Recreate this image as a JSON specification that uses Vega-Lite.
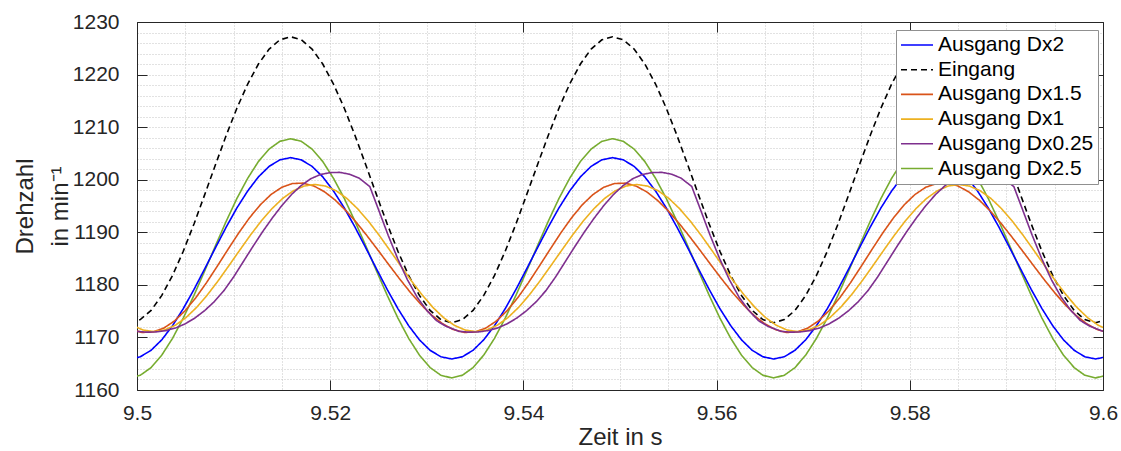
{
"$schema": "https://vega.github.io/schema/vega-lite/v6.json",
"width": 966,
"height": 368,
"autosize": {"type": "none"},
"padding": {"left": 137, "top": 22, "right": 18, "bottom": 61},
"background": "white",
"config": {
  "view": {"stroke": null},
  "font": "Liberation Sans",
  "axis": {"labelFont": "Liberation Sans", "titleFont": "Liberation Sans", "labelColor": "#262626", "titleColor": "#262626", "titleFontWeight": "normal", "domainColor": "#262626", "tickColor": "#262626", "domainWidth": 1, "tickWidth": 1},
  "legend": {"labelFont": "Liberation Sans"}
},
"data": {"values": [
{"s":"Eingang","t":9.49923,"v":1172.8},{"s":"Eingang","t":9.50034,"v":1173.39},{"s":"Eingang","t":9.50146,"v":1175.15},{"s":"Eingang","t":9.50257,"v":1177.99},{"s":"Eingang","t":9.50368,"v":1181.8},{"s":"Eingang","t":9.50479,"v":1186.4},{"s":"Eingang","t":9.5059,"v":1191.59},{"s":"Eingang","t":9.50701,"v":1197.16},{"s":"Eingang","t":9.50812,"v":1202.84},{"s":"Eingang","t":9.50923,"v":1208.41},{"s":"Eingang","t":9.51034,"v":1213.6},{"s":"Eingang","t":9.51146,"v":1218.2},{"s":"Eingang","t":9.51257,"v":1222.01},{"s":"Eingang","t":9.51368,"v":1224.85},{"s":"Eingang","t":9.51479,"v":1226.61},
{"s":"Eingang","t":9.5159,"v":1227.2},{"s":"Eingang","t":9.51701,"v":1226.61},{"s":"Eingang","t":9.51812,"v":1224.85},{"s":"Eingang","t":9.51923,"v":1222.01},{"s":"Eingang","t":9.52034,"v":1218.2},{"s":"Eingang","t":9.52146,"v":1213.6},{"s":"Eingang","t":9.52257,"v":1208.41},{"s":"Eingang","t":9.52368,"v":1202.84},{"s":"Eingang","t":9.52479,"v":1197.16},{"s":"Eingang","t":9.5259,"v":1191.59},{"s":"Eingang","t":9.52701,"v":1186.4},{"s":"Eingang","t":9.52812,"v":1181.8},{"s":"Eingang","t":9.52923,"v":1177.99},{"s":"Eingang","t":9.53034,"v":1175.15},{"s":"Eingang","t":9.53146,"v":1173.39},
{"s":"Eingang","t":9.53257,"v":1172.8},{"s":"Eingang","t":9.53368,"v":1173.39},{"s":"Eingang","t":9.53479,"v":1175.15},{"s":"Eingang","t":9.5359,"v":1177.99},{"s":"Eingang","t":9.53701,"v":1181.8},{"s":"Eingang","t":9.53812,"v":1186.4},{"s":"Eingang","t":9.53923,"v":1191.59},{"s":"Eingang","t":9.54034,"v":1197.16},{"s":"Eingang","t":9.54146,"v":1202.84},{"s":"Eingang","t":9.54257,"v":1208.41},{"s":"Eingang","t":9.54368,"v":1213.6},{"s":"Eingang","t":9.54479,"v":1218.2},{"s":"Eingang","t":9.5459,"v":1222.01},{"s":"Eingang","t":9.54701,"v":1224.85},{"s":"Eingang","t":9.54812,"v":1226.61},
{"s":"Eingang","t":9.54923,"v":1227.2},{"s":"Eingang","t":9.55034,"v":1226.61},{"s":"Eingang","t":9.55146,"v":1224.85},{"s":"Eingang","t":9.55257,"v":1222.01},{"s":"Eingang","t":9.55368,"v":1218.2},{"s":"Eingang","t":9.55479,"v":1213.6},{"s":"Eingang","t":9.5559,"v":1208.41},{"s":"Eingang","t":9.55701,"v":1202.84},{"s":"Eingang","t":9.55812,"v":1197.16},{"s":"Eingang","t":9.55923,"v":1191.59},{"s":"Eingang","t":9.56034,"v":1186.4},{"s":"Eingang","t":9.56146,"v":1181.8},{"s":"Eingang","t":9.56257,"v":1177.99},{"s":"Eingang","t":9.56368,"v":1175.15},{"s":"Eingang","t":9.56479,"v":1173.39},
{"s":"Eingang","t":9.5659,"v":1172.8},{"s":"Eingang","t":9.56701,"v":1173.39},{"s":"Eingang","t":9.56812,"v":1175.15},{"s":"Eingang","t":9.56923,"v":1177.99},{"s":"Eingang","t":9.57034,"v":1181.8},{"s":"Eingang","t":9.57146,"v":1186.4},{"s":"Eingang","t":9.57257,"v":1191.59},{"s":"Eingang","t":9.57368,"v":1197.16},{"s":"Eingang","t":9.57479,"v":1202.84},{"s":"Eingang","t":9.5759,"v":1208.41},{"s":"Eingang","t":9.57701,"v":1213.6},{"s":"Eingang","t":9.57812,"v":1218.2},{"s":"Eingang","t":9.57923,"v":1222.01},{"s":"Eingang","t":9.58034,"v":1224.85},{"s":"Eingang","t":9.58146,"v":1226.61},
{"s":"Eingang","t":9.58257,"v":1227.2},{"s":"Eingang","t":9.58368,"v":1226.61},{"s":"Eingang","t":9.58479,"v":1224.85},{"s":"Eingang","t":9.5859,"v":1222.01},{"s":"Eingang","t":9.58701,"v":1218.2},{"s":"Eingang","t":9.58812,"v":1213.6},{"s":"Eingang","t":9.58923,"v":1208.41},{"s":"Eingang","t":9.59034,"v":1202.84},{"s":"Eingang","t":9.59146,"v":1197.16},{"s":"Eingang","t":9.59257,"v":1191.59},{"s":"Eingang","t":9.59368,"v":1186.4},{"s":"Eingang","t":9.59479,"v":1181.8},{"s":"Eingang","t":9.5959,"v":1177.99},{"s":"Eingang","t":9.59701,"v":1175.15},{"s":"Eingang","t":9.59812,"v":1173.39},{"s":"Eingang","t":9.59923,"v":1172.8},{"s":"Eingang","t":9.60034,"v":1173.39},

{"s":"Ausgang Dx2.5","t":9.49923,"v":1162.3},{"s":"Ausgang Dx2.5","t":9.50034,"v":1162.8},{"s":"Ausgang Dx2.5","t":9.50146,"v":1164.27},{"s":"Ausgang Dx2.5","t":9.50257,"v":1166.65},{"s":"Ausgang Dx2.5","t":9.50368,"v":1169.83},{"s":"Ausgang Dx2.5","t":9.50479,"v":1173.68},{"s":"Ausgang Dx2.5","t":9.5059,"v":1178.02},{"s":"Ausgang Dx2.5","t":9.50701,"v":1182.67},{"s":"Ausgang Dx2.5","t":9.50812,"v":1187.43},{"s":"Ausgang Dx2.5","t":9.50923,"v":1192.08},{"s":"Ausgang Dx2.5","t":9.51034,"v":1196.43},{"s":"Ausgang Dx2.5","t":9.51146,"v":1200.27},{"s":"Ausgang Dx2.5","t":9.51257,"v":1203.46},{"s":"Ausgang Dx2.5","t":9.51368,"v":1205.83},{"s":"Ausgang Dx2.5","t":9.51479,"v":1207.3},
{"s":"Ausgang Dx2.5","t":9.5159,"v":1207.8},{"s":"Ausgang Dx2.5","t":9.51701,"v":1207.3},{"s":"Ausgang Dx2.5","t":9.51812,"v":1205.83},{"s":"Ausgang Dx2.5","t":9.51923,"v":1203.46},{"s":"Ausgang Dx2.5","t":9.52034,"v":1200.27},{"s":"Ausgang Dx2.5","t":9.52146,"v":1196.43},{"s":"Ausgang Dx2.5","t":9.52257,"v":1192.08},{"s":"Ausgang Dx2.5","t":9.52368,"v":1187.43},{"s":"Ausgang Dx2.5","t":9.52479,"v":1182.67},{"s":"Ausgang Dx2.5","t":9.5259,"v":1178.02},{"s":"Ausgang Dx2.5","t":9.52701,"v":1173.68},{"s":"Ausgang Dx2.5","t":9.52812,"v":1169.83},{"s":"Ausgang Dx2.5","t":9.52923,"v":1166.65},{"s":"Ausgang Dx2.5","t":9.53034,"v":1164.27},{"s":"Ausgang Dx2.5","t":9.53146,"v":1162.8},
{"s":"Ausgang Dx2.5","t":9.53257,"v":1162.3},{"s":"Ausgang Dx2.5","t":9.53368,"v":1162.8},{"s":"Ausgang Dx2.5","t":9.53479,"v":1164.27},{"s":"Ausgang Dx2.5","t":9.5359,"v":1166.65},{"s":"Ausgang Dx2.5","t":9.53701,"v":1169.83},{"s":"Ausgang Dx2.5","t":9.53812,"v":1173.68},{"s":"Ausgang Dx2.5","t":9.53923,"v":1178.02},{"s":"Ausgang Dx2.5","t":9.54034,"v":1182.67},{"s":"Ausgang Dx2.5","t":9.54146,"v":1187.43},{"s":"Ausgang Dx2.5","t":9.54257,"v":1192.08},{"s":"Ausgang Dx2.5","t":9.54368,"v":1196.43},{"s":"Ausgang Dx2.5","t":9.54479,"v":1200.27},{"s":"Ausgang Dx2.5","t":9.5459,"v":1203.46},{"s":"Ausgang Dx2.5","t":9.54701,"v":1205.83},{"s":"Ausgang Dx2.5","t":9.54812,"v":1207.3},
{"s":"Ausgang Dx2.5","t":9.54923,"v":1207.8},{"s":"Ausgang Dx2.5","t":9.55034,"v":1207.3},{"s":"Ausgang Dx2.5","t":9.55146,"v":1205.83},{"s":"Ausgang Dx2.5","t":9.55257,"v":1203.46},{"s":"Ausgang Dx2.5","t":9.55368,"v":1200.27},{"s":"Ausgang Dx2.5","t":9.55479,"v":1196.43},{"s":"Ausgang Dx2.5","t":9.5559,"v":1192.08},{"s":"Ausgang Dx2.5","t":9.55701,"v":1187.43},{"s":"Ausgang Dx2.5","t":9.55812,"v":1182.67},{"s":"Ausgang Dx2.5","t":9.55923,"v":1178.02},{"s":"Ausgang Dx2.5","t":9.56034,"v":1173.68},{"s":"Ausgang Dx2.5","t":9.56146,"v":1169.83},{"s":"Ausgang Dx2.5","t":9.56257,"v":1166.65},{"s":"Ausgang Dx2.5","t":9.56368,"v":1164.27},{"s":"Ausgang Dx2.5","t":9.56479,"v":1162.8},
{"s":"Ausgang Dx2.5","t":9.5659,"v":1162.3},{"s":"Ausgang Dx2.5","t":9.56701,"v":1162.8},{"s":"Ausgang Dx2.5","t":9.56812,"v":1164.27},{"s":"Ausgang Dx2.5","t":9.56923,"v":1166.65},{"s":"Ausgang Dx2.5","t":9.57034,"v":1169.83},{"s":"Ausgang Dx2.5","t":9.57146,"v":1173.68},{"s":"Ausgang Dx2.5","t":9.57257,"v":1178.02},{"s":"Ausgang Dx2.5","t":9.57368,"v":1182.67},{"s":"Ausgang Dx2.5","t":9.57479,"v":1187.43},{"s":"Ausgang Dx2.5","t":9.5759,"v":1192.08},{"s":"Ausgang Dx2.5","t":9.57701,"v":1196.43},{"s":"Ausgang Dx2.5","t":9.57812,"v":1200.27},{"s":"Ausgang Dx2.5","t":9.57923,"v":1203.46},{"s":"Ausgang Dx2.5","t":9.58034,"v":1205.83},{"s":"Ausgang Dx2.5","t":9.58146,"v":1207.3},
{"s":"Ausgang Dx2.5","t":9.58257,"v":1207.8},{"s":"Ausgang Dx2.5","t":9.58368,"v":1207.3},{"s":"Ausgang Dx2.5","t":9.58479,"v":1205.83},{"s":"Ausgang Dx2.5","t":9.5859,"v":1203.46},{"s":"Ausgang Dx2.5","t":9.58701,"v":1200.27},{"s":"Ausgang Dx2.5","t":9.58812,"v":1196.43},{"s":"Ausgang Dx2.5","t":9.58923,"v":1192.08},{"s":"Ausgang Dx2.5","t":9.59034,"v":1187.43},{"s":"Ausgang Dx2.5","t":9.59146,"v":1182.67},{"s":"Ausgang Dx2.5","t":9.59257,"v":1178.02},{"s":"Ausgang Dx2.5","t":9.59368,"v":1173.68},{"s":"Ausgang Dx2.5","t":9.59479,"v":1169.83},{"s":"Ausgang Dx2.5","t":9.5959,"v":1166.65},{"s":"Ausgang Dx2.5","t":9.59701,"v":1164.27},{"s":"Ausgang Dx2.5","t":9.59812,"v":1162.8},{"s":"Ausgang Dx2.5","t":9.59923,"v":1162.3},{"s":"Ausgang Dx2.5","t":9.60034,"v":1162.8},

{"s":"Ausgang Dx2","t":9.49923,"v":1165.9},{"s":"Ausgang Dx2","t":9.50034,"v":1166.32},{"s":"Ausgang Dx2","t":9.50146,"v":1167.56},{"s":"Ausgang Dx2","t":9.50257,"v":1169.56},{"s":"Ausgang Dx2","t":9.50368,"v":1172.24},{"s":"Ausgang Dx2","t":9.50479,"v":1175.48},{"s":"Ausgang Dx2","t":9.5059,"v":1179.13},{"s":"Ausgang Dx2","t":9.50701,"v":1183.05},{"s":"Ausgang Dx2","t":9.50812,"v":1187.05},{"s":"Ausgang Dx2","t":9.50923,"v":1190.97},{"s":"Ausgang Dx2","t":9.51034,"v":1194.63},{"s":"Ausgang Dx2","t":9.51146,"v":1197.86},{"s":"Ausgang Dx2","t":9.51257,"v":1200.54},{"s":"Ausgang Dx2","t":9.51368,"v":1202.54},{"s":"Ausgang Dx2","t":9.51479,"v":1203.78},
{"s":"Ausgang Dx2","t":9.5159,"v":1204.2},{"s":"Ausgang Dx2","t":9.51701,"v":1203.78},{"s":"Ausgang Dx2","t":9.51812,"v":1202.54},{"s":"Ausgang Dx2","t":9.51923,"v":1200.54},{"s":"Ausgang Dx2","t":9.52034,"v":1197.86},{"s":"Ausgang Dx2","t":9.52146,"v":1194.63},{"s":"Ausgang Dx2","t":9.52257,"v":1190.97},{"s":"Ausgang Dx2","t":9.52368,"v":1187.05},{"s":"Ausgang Dx2","t":9.52479,"v":1183.05},{"s":"Ausgang Dx2","t":9.5259,"v":1179.13},{"s":"Ausgang Dx2","t":9.52701,"v":1175.48},{"s":"Ausgang Dx2","t":9.52812,"v":1172.24},{"s":"Ausgang Dx2","t":9.52923,"v":1169.56},{"s":"Ausgang Dx2","t":9.53034,"v":1167.56},{"s":"Ausgang Dx2","t":9.53146,"v":1166.32},
{"s":"Ausgang Dx2","t":9.53257,"v":1165.9},{"s":"Ausgang Dx2","t":9.53368,"v":1166.32},{"s":"Ausgang Dx2","t":9.53479,"v":1167.56},{"s":"Ausgang Dx2","t":9.5359,"v":1169.56},{"s":"Ausgang Dx2","t":9.53701,"v":1172.24},{"s":"Ausgang Dx2","t":9.53812,"v":1175.48},{"s":"Ausgang Dx2","t":9.53923,"v":1179.13},{"s":"Ausgang Dx2","t":9.54034,"v":1183.05},{"s":"Ausgang Dx2","t":9.54146,"v":1187.05},{"s":"Ausgang Dx2","t":9.54257,"v":1190.97},{"s":"Ausgang Dx2","t":9.54368,"v":1194.63},{"s":"Ausgang Dx2","t":9.54479,"v":1197.86},{"s":"Ausgang Dx2","t":9.5459,"v":1200.54},{"s":"Ausgang Dx2","t":9.54701,"v":1202.54},{"s":"Ausgang Dx2","t":9.54812,"v":1203.78},
{"s":"Ausgang Dx2","t":9.54923,"v":1204.2},{"s":"Ausgang Dx2","t":9.55034,"v":1203.78},{"s":"Ausgang Dx2","t":9.55146,"v":1202.54},{"s":"Ausgang Dx2","t":9.55257,"v":1200.54},{"s":"Ausgang Dx2","t":9.55368,"v":1197.86},{"s":"Ausgang Dx2","t":9.55479,"v":1194.63},{"s":"Ausgang Dx2","t":9.5559,"v":1190.97},{"s":"Ausgang Dx2","t":9.55701,"v":1187.05},{"s":"Ausgang Dx2","t":9.55812,"v":1183.05},{"s":"Ausgang Dx2","t":9.55923,"v":1179.13},{"s":"Ausgang Dx2","t":9.56034,"v":1175.48},{"s":"Ausgang Dx2","t":9.56146,"v":1172.24},{"s":"Ausgang Dx2","t":9.56257,"v":1169.56},{"s":"Ausgang Dx2","t":9.56368,"v":1167.56},{"s":"Ausgang Dx2","t":9.56479,"v":1166.32},
{"s":"Ausgang Dx2","t":9.5659,"v":1165.9},{"s":"Ausgang Dx2","t":9.56701,"v":1166.32},{"s":"Ausgang Dx2","t":9.56812,"v":1167.56},{"s":"Ausgang Dx2","t":9.56923,"v":1169.56},{"s":"Ausgang Dx2","t":9.57034,"v":1172.24},{"s":"Ausgang Dx2","t":9.57146,"v":1175.48},{"s":"Ausgang Dx2","t":9.57257,"v":1179.13},{"s":"Ausgang Dx2","t":9.57368,"v":1183.05},{"s":"Ausgang Dx2","t":9.57479,"v":1187.05},{"s":"Ausgang Dx2","t":9.5759,"v":1190.97},{"s":"Ausgang Dx2","t":9.57701,"v":1194.63},{"s":"Ausgang Dx2","t":9.57812,"v":1197.86},{"s":"Ausgang Dx2","t":9.57923,"v":1200.54},{"s":"Ausgang Dx2","t":9.58034,"v":1202.54},{"s":"Ausgang Dx2","t":9.58146,"v":1203.78},
{"s":"Ausgang Dx2","t":9.58257,"v":1204.2},{"s":"Ausgang Dx2","t":9.58368,"v":1203.78},{"s":"Ausgang Dx2","t":9.58479,"v":1202.54},{"s":"Ausgang Dx2","t":9.5859,"v":1200.54},{"s":"Ausgang Dx2","t":9.58701,"v":1197.86},{"s":"Ausgang Dx2","t":9.58812,"v":1194.63},{"s":"Ausgang Dx2","t":9.58923,"v":1190.97},{"s":"Ausgang Dx2","t":9.59034,"v":1187.05},{"s":"Ausgang Dx2","t":9.59146,"v":1183.05},{"s":"Ausgang Dx2","t":9.59257,"v":1179.13},{"s":"Ausgang Dx2","t":9.59368,"v":1175.48},{"s":"Ausgang Dx2","t":9.59479,"v":1172.24},{"s":"Ausgang Dx2","t":9.5959,"v":1169.56},{"s":"Ausgang Dx2","t":9.59701,"v":1167.56},{"s":"Ausgang Dx2","t":9.59812,"v":1166.32},{"s":"Ausgang Dx2","t":9.59923,"v":1165.9},{"s":"Ausgang Dx2","t":9.60034,"v":1166.32},

{"s":"Ausgang Dx1.5","t":9.49942,"v":1171.49},{"s":"Ausgang Dx1.5","t":9.50053,"v":1170.95},{"s":"Ausgang Dx1.5","t":9.50164,"v":1171.03},{"s":"Ausgang Dx1.5","t":9.50276,"v":1171.76},{"s":"Ausgang Dx1.5","t":9.50387,"v":1173.12},{"s":"Ausgang Dx1.5","t":9.50498,"v":1175.08},{"s":"Ausgang Dx1.5","t":9.50609,"v":1177.56},{"s":"Ausgang Dx1.5","t":9.5072,"v":1180.43},{"s":"Ausgang Dx1.5","t":9.50831,"v":1183.55},{"s":"Ausgang Dx1.5","t":9.50942,"v":1186.75},{"s":"Ausgang Dx1.5","t":9.51053,"v":1189.87},{"s":"Ausgang Dx1.5","t":9.51164,"v":1192.74},{"s":"Ausgang Dx1.5","t":9.51276,"v":1195.22},{"s":"Ausgang Dx1.5","t":9.51387,"v":1197.18},{"s":"Ausgang Dx1.5","t":9.51498,"v":1198.55},{"s":"Ausgang Dx1.5","t":9.51609,"v":1199.27},
{"s":"Ausgang Dx1.5","t":9.5172,"v":1199.35},{"s":"Ausgang Dx1.5","t":9.51831,"v":1198.81},{"s":"Ausgang Dx1.5","t":9.51942,"v":1197.7},{"s":"Ausgang Dx1.5","t":9.52053,"v":1196.1},{"s":"Ausgang Dx1.5","t":9.52164,"v":1194.09},{"s":"Ausgang Dx1.5","t":9.52276,"v":1191.76},{"s":"Ausgang Dx1.5","t":9.52387,"v":1189.2},{"s":"Ausgang Dx1.5","t":9.52498,"v":1186.52},{"s":"Ausgang Dx1.5","t":9.52609,"v":1183.78},{"s":"Ausgang Dx1.5","t":9.5272,"v":1181.1},{"s":"Ausgang Dx1.5","t":9.52831,"v":1178.54},{"s":"Ausgang Dx1.5","t":9.52942,"v":1176.21},{"s":"Ausgang Dx1.5","t":9.53053,"v":1174.2},{"s":"Ausgang Dx1.5","t":9.53164,"v":1172.6},{"s":"Ausgang Dx1.5","t":9.53276,"v":1171.49},
{"s":"Ausgang Dx1.5","t":9.53387,"v":1170.95},{"s":"Ausgang Dx1.5","t":9.53498,"v":1171.03},{"s":"Ausgang Dx1.5","t":9.53609,"v":1171.76},{"s":"Ausgang Dx1.5","t":9.5372,"v":1173.12},{"s":"Ausgang Dx1.5","t":9.53831,"v":1175.08},{"s":"Ausgang Dx1.5","t":9.53942,"v":1177.56},{"s":"Ausgang Dx1.5","t":9.54053,"v":1180.43},{"s":"Ausgang Dx1.5","t":9.54164,"v":1183.55},{"s":"Ausgang Dx1.5","t":9.54276,"v":1186.75},{"s":"Ausgang Dx1.5","t":9.54387,"v":1189.87},{"s":"Ausgang Dx1.5","t":9.54498,"v":1192.74},{"s":"Ausgang Dx1.5","t":9.54609,"v":1195.22},{"s":"Ausgang Dx1.5","t":9.5472,"v":1197.18},{"s":"Ausgang Dx1.5","t":9.54831,"v":1198.55},{"s":"Ausgang Dx1.5","t":9.54942,"v":1199.27},
{"s":"Ausgang Dx1.5","t":9.55053,"v":1199.35},{"s":"Ausgang Dx1.5","t":9.55164,"v":1198.81},{"s":"Ausgang Dx1.5","t":9.55276,"v":1197.7},{"s":"Ausgang Dx1.5","t":9.55387,"v":1196.1},{"s":"Ausgang Dx1.5","t":9.55498,"v":1194.09},{"s":"Ausgang Dx1.5","t":9.55609,"v":1191.76},{"s":"Ausgang Dx1.5","t":9.5572,"v":1189.2},{"s":"Ausgang Dx1.5","t":9.55831,"v":1186.52},{"s":"Ausgang Dx1.5","t":9.55942,"v":1183.78},{"s":"Ausgang Dx1.5","t":9.56053,"v":1181.1},{"s":"Ausgang Dx1.5","t":9.56164,"v":1178.54},{"s":"Ausgang Dx1.5","t":9.56276,"v":1176.21},{"s":"Ausgang Dx1.5","t":9.56387,"v":1174.2},{"s":"Ausgang Dx1.5","t":9.56498,"v":1172.6},{"s":"Ausgang Dx1.5","t":9.56609,"v":1171.49},
{"s":"Ausgang Dx1.5","t":9.5672,"v":1170.95},{"s":"Ausgang Dx1.5","t":9.56831,"v":1171.03},{"s":"Ausgang Dx1.5","t":9.56942,"v":1171.76},{"s":"Ausgang Dx1.5","t":9.57053,"v":1173.12},{"s":"Ausgang Dx1.5","t":9.57164,"v":1175.08},{"s":"Ausgang Dx1.5","t":9.57276,"v":1177.56},{"s":"Ausgang Dx1.5","t":9.57387,"v":1180.43},{"s":"Ausgang Dx1.5","t":9.57498,"v":1183.55},{"s":"Ausgang Dx1.5","t":9.57609,"v":1186.75},{"s":"Ausgang Dx1.5","t":9.5772,"v":1189.87},{"s":"Ausgang Dx1.5","t":9.57831,"v":1192.74},{"s":"Ausgang Dx1.5","t":9.57942,"v":1195.22},{"s":"Ausgang Dx1.5","t":9.58053,"v":1197.18},{"s":"Ausgang Dx1.5","t":9.58164,"v":1198.55},{"s":"Ausgang Dx1.5","t":9.58276,"v":1199.27},
{"s":"Ausgang Dx1.5","t":9.58387,"v":1199.35},{"s":"Ausgang Dx1.5","t":9.58498,"v":1198.81},{"s":"Ausgang Dx1.5","t":9.58609,"v":1197.7},{"s":"Ausgang Dx1.5","t":9.5872,"v":1196.1},{"s":"Ausgang Dx1.5","t":9.58831,"v":1194.09},{"s":"Ausgang Dx1.5","t":9.58942,"v":1191.76},{"s":"Ausgang Dx1.5","t":9.59053,"v":1189.2},{"s":"Ausgang Dx1.5","t":9.59164,"v":1186.52},{"s":"Ausgang Dx1.5","t":9.59276,"v":1183.78},{"s":"Ausgang Dx1.5","t":9.59387,"v":1181.1},{"s":"Ausgang Dx1.5","t":9.59498,"v":1178.54},{"s":"Ausgang Dx1.5","t":9.59609,"v":1176.21},{"s":"Ausgang Dx1.5","t":9.5972,"v":1174.2},{"s":"Ausgang Dx1.5","t":9.59831,"v":1172.6},{"s":"Ausgang Dx1.5","t":9.59942,"v":1171.49},{"s":"Ausgang Dx1.5","t":9.60053,"v":1170.95},

{"s":"Ausgang Dx1","t":9.49951,"v":1172.31},{"s":"Ausgang Dx1","t":9.50062,"v":1171.41},{"s":"Ausgang Dx1","t":9.50173,"v":1171.1},{"s":"Ausgang Dx1","t":9.50284,"v":1171.41},{"s":"Ausgang Dx1","t":9.50396,"v":1172.31},{"s":"Ausgang Dx1","t":9.50507,"v":1173.77},{"s":"Ausgang Dx1","t":9.50618,"v":1175.73},{"s":"Ausgang Dx1","t":9.50729,"v":1178.1},{"s":"Ausgang Dx1","t":9.5084,"v":1180.77},{"s":"Ausgang Dx1","t":9.50951,"v":1183.64},{"s":"Ausgang Dx1","t":9.51062,"v":1186.56},{"s":"Ausgang Dx1","t":9.51173,"v":1189.43},{"s":"Ausgang Dx1","t":9.51284,"v":1192.1},{"s":"Ausgang Dx1","t":9.51396,"v":1194.47},{"s":"Ausgang Dx1","t":9.51507,"v":1196.43},{"s":"Ausgang Dx1","t":9.51618,"v":1197.89},{"s":"Ausgang Dx1","t":9.51729,"v":1198.79},
{"s":"Ausgang Dx1","t":9.5184,"v":1199.1},{"s":"Ausgang Dx1","t":9.51951,"v":1198.79},{"s":"Ausgang Dx1","t":9.52062,"v":1197.89},{"s":"Ausgang Dx1","t":9.52173,"v":1196.43},{"s":"Ausgang Dx1","t":9.52284,"v":1194.47},{"s":"Ausgang Dx1","t":9.52396,"v":1192.1},{"s":"Ausgang Dx1","t":9.52507,"v":1189.43},{"s":"Ausgang Dx1","t":9.52618,"v":1186.56},{"s":"Ausgang Dx1","t":9.52729,"v":1183.64},{"s":"Ausgang Dx1","t":9.5284,"v":1180.77},{"s":"Ausgang Dx1","t":9.52951,"v":1178.1},{"s":"Ausgang Dx1","t":9.53062,"v":1175.73},{"s":"Ausgang Dx1","t":9.53173,"v":1173.77},{"s":"Ausgang Dx1","t":9.53284,"v":1172.31},{"s":"Ausgang Dx1","t":9.53396,"v":1171.41},
{"s":"Ausgang Dx1","t":9.53507,"v":1171.1},{"s":"Ausgang Dx1","t":9.53618,"v":1171.41},{"s":"Ausgang Dx1","t":9.53729,"v":1172.31},{"s":"Ausgang Dx1","t":9.5384,"v":1173.77},{"s":"Ausgang Dx1","t":9.53951,"v":1175.73},{"s":"Ausgang Dx1","t":9.54062,"v":1178.1},{"s":"Ausgang Dx1","t":9.54173,"v":1180.77},{"s":"Ausgang Dx1","t":9.54284,"v":1183.64},{"s":"Ausgang Dx1","t":9.54396,"v":1186.56},{"s":"Ausgang Dx1","t":9.54507,"v":1189.43},{"s":"Ausgang Dx1","t":9.54618,"v":1192.1},{"s":"Ausgang Dx1","t":9.54729,"v":1194.47},{"s":"Ausgang Dx1","t":9.5484,"v":1196.43},{"s":"Ausgang Dx1","t":9.54951,"v":1197.89},{"s":"Ausgang Dx1","t":9.55062,"v":1198.79},
{"s":"Ausgang Dx1","t":9.55173,"v":1199.1},{"s":"Ausgang Dx1","t":9.55284,"v":1198.79},{"s":"Ausgang Dx1","t":9.55396,"v":1197.89},{"s":"Ausgang Dx1","t":9.55507,"v":1196.43},{"s":"Ausgang Dx1","t":9.55618,"v":1194.47},{"s":"Ausgang Dx1","t":9.55729,"v":1192.1},{"s":"Ausgang Dx1","t":9.5584,"v":1189.43},{"s":"Ausgang Dx1","t":9.55951,"v":1186.56},{"s":"Ausgang Dx1","t":9.56062,"v":1183.64},{"s":"Ausgang Dx1","t":9.56173,"v":1180.77},{"s":"Ausgang Dx1","t":9.56284,"v":1178.1},{"s":"Ausgang Dx1","t":9.56396,"v":1175.73},{"s":"Ausgang Dx1","t":9.56507,"v":1173.77},{"s":"Ausgang Dx1","t":9.56618,"v":1172.31},{"s":"Ausgang Dx1","t":9.56729,"v":1171.41},
{"s":"Ausgang Dx1","t":9.5684,"v":1171.1},{"s":"Ausgang Dx1","t":9.56951,"v":1171.41},{"s":"Ausgang Dx1","t":9.57062,"v":1172.31},{"s":"Ausgang Dx1","t":9.57173,"v":1173.77},{"s":"Ausgang Dx1","t":9.57284,"v":1175.73},{"s":"Ausgang Dx1","t":9.57396,"v":1178.1},{"s":"Ausgang Dx1","t":9.57507,"v":1180.77},{"s":"Ausgang Dx1","t":9.57618,"v":1183.64},{"s":"Ausgang Dx1","t":9.57729,"v":1186.56},{"s":"Ausgang Dx1","t":9.5784,"v":1189.43},{"s":"Ausgang Dx1","t":9.57951,"v":1192.1},{"s":"Ausgang Dx1","t":9.58062,"v":1194.47},{"s":"Ausgang Dx1","t":9.58173,"v":1196.43},{"s":"Ausgang Dx1","t":9.58284,"v":1197.89},{"s":"Ausgang Dx1","t":9.58396,"v":1198.79},
{"s":"Ausgang Dx1","t":9.58507,"v":1199.1},{"s":"Ausgang Dx1","t":9.58618,"v":1198.79},{"s":"Ausgang Dx1","t":9.58729,"v":1197.89},{"s":"Ausgang Dx1","t":9.5884,"v":1196.43},{"s":"Ausgang Dx1","t":9.58951,"v":1194.47},{"s":"Ausgang Dx1","t":9.59062,"v":1192.1},{"s":"Ausgang Dx1","t":9.59173,"v":1189.43},{"s":"Ausgang Dx1","t":9.59284,"v":1186.56},{"s":"Ausgang Dx1","t":9.59396,"v":1183.64},{"s":"Ausgang Dx1","t":9.59507,"v":1180.77},{"s":"Ausgang Dx1","t":9.59618,"v":1178.1},{"s":"Ausgang Dx1","t":9.59729,"v":1175.73},{"s":"Ausgang Dx1","t":9.5984,"v":1173.77},{"s":"Ausgang Dx1","t":9.59951,"v":1172.31},{"s":"Ausgang Dx1","t":9.60062,"v":1171.41},

{"s":"Ausgang Dx0.25","t":9.5,"v":1171.15},{"s":"Ausgang Dx0.25","t":9.501,"v":1171.0},{"s":"Ausgang Dx0.25","t":9.502,"v":1171.05},{"s":"Ausgang Dx0.25","t":9.503,"v":1171.3},{"s":"Ausgang Dx0.25","t":9.504,"v":1171.8},{"s":"Ausgang Dx0.25","t":9.505,"v":1172.6},{"s":"Ausgang Dx0.25","t":9.506,"v":1173.7},{"s":"Ausgang Dx0.25","t":9.507,"v":1175.1},{"s":"Ausgang Dx0.25","t":9.508,"v":1176.8},{"s":"Ausgang Dx0.25","t":9.509,"v":1178.9},{"s":"Ausgang Dx0.25","t":9.51,"v":1181.5},{"s":"Ausgang Dx0.25","t":9.511,"v":1184.4},{"s":"Ausgang Dx0.25","t":9.512,"v":1187.3},{"s":"Ausgang Dx0.25","t":9.513,"v":1190.1},{"s":"Ausgang Dx0.25","t":9.514,"v":1192.7},{"s":"Ausgang Dx0.25","t":9.515,"v":1195.1},{"s":"Ausgang Dx0.25","t":9.516,"v":1197.2},{"s":"Ausgang Dx0.25","t":9.517,"v":1198.9},{"s":"Ausgang Dx0.25","t":9.518,"v":1200.2},{"s":"Ausgang Dx0.25","t":9.519,"v":1201.0},{"s":"Ausgang Dx0.25","t":9.52,"v":1201.35},{"s":"Ausgang Dx0.25","t":9.521,"v":1201.4},{"s":"Ausgang Dx0.25","t":9.522,"v":1201.05},{"s":"Ausgang Dx0.25","t":9.523,"v":1200.3},{"s":"Ausgang Dx0.25","t":9.5241,"v":1198.7},{"s":"Ausgang Dx0.25","t":9.525,"v":1194.32},{"s":"Ausgang Dx0.25","t":9.526,"v":1189.43},{"s":"Ausgang Dx0.25","t":9.527,"v":1184.92},{"s":"Ausgang Dx0.25","t":9.528,"v":1180.95},{"s":"Ausgang Dx0.25","t":9.529,"v":1177.65},{"s":"Ausgang Dx0.25","t":9.53,"v":1175.14},{"s":"Ausgang Dx0.25","t":9.531,"v":1173.2},{"s":"Ausgang Dx0.25","t":9.532,"v":1172.1},{"s":"Ausgang Dx0.25","t":9.533,"v":1171.4},
{"s":"Ausgang Dx0.25","t":9.53333,"v":1171.15},{"s":"Ausgang Dx0.25","t":9.53433,"v":1171.0},{"s":"Ausgang Dx0.25","t":9.53533,"v":1171.05},{"s":"Ausgang Dx0.25","t":9.53633,"v":1171.3},{"s":"Ausgang Dx0.25","t":9.53733,"v":1171.8},{"s":"Ausgang Dx0.25","t":9.53833,"v":1172.6},{"s":"Ausgang Dx0.25","t":9.53933,"v":1173.7},{"s":"Ausgang Dx0.25","t":9.54033,"v":1175.1},{"s":"Ausgang Dx0.25","t":9.54133,"v":1176.8},{"s":"Ausgang Dx0.25","t":9.54233,"v":1178.9},{"s":"Ausgang Dx0.25","t":9.54333,"v":1181.5},{"s":"Ausgang Dx0.25","t":9.54433,"v":1184.4},{"s":"Ausgang Dx0.25","t":9.54533,"v":1187.3},{"s":"Ausgang Dx0.25","t":9.54633,"v":1190.1},{"s":"Ausgang Dx0.25","t":9.54733,"v":1192.7},{"s":"Ausgang Dx0.25","t":9.54833,"v":1195.1},{"s":"Ausgang Dx0.25","t":9.54933,"v":1197.2},{"s":"Ausgang Dx0.25","t":9.55033,"v":1198.9},{"s":"Ausgang Dx0.25","t":9.55133,"v":1200.2},{"s":"Ausgang Dx0.25","t":9.55233,"v":1201.0},{"s":"Ausgang Dx0.25","t":9.55333,"v":1201.35},{"s":"Ausgang Dx0.25","t":9.55433,"v":1201.4},{"s":"Ausgang Dx0.25","t":9.55533,"v":1201.05},{"s":"Ausgang Dx0.25","t":9.55633,"v":1200.3},{"s":"Ausgang Dx0.25","t":9.55743,"v":1198.7},{"s":"Ausgang Dx0.25","t":9.55833,"v":1194.32},{"s":"Ausgang Dx0.25","t":9.55933,"v":1189.43},{"s":"Ausgang Dx0.25","t":9.56033,"v":1184.92},{"s":"Ausgang Dx0.25","t":9.56133,"v":1180.95},{"s":"Ausgang Dx0.25","t":9.56233,"v":1177.65},{"s":"Ausgang Dx0.25","t":9.56333,"v":1175.14},{"s":"Ausgang Dx0.25","t":9.56433,"v":1173.2},{"s":"Ausgang Dx0.25","t":9.56533,"v":1172.1},{"s":"Ausgang Dx0.25","t":9.56633,"v":1171.4},
{"s":"Ausgang Dx0.25","t":9.56667,"v":1171.15},{"s":"Ausgang Dx0.25","t":9.56767,"v":1171.0},{"s":"Ausgang Dx0.25","t":9.56867,"v":1171.05},{"s":"Ausgang Dx0.25","t":9.56967,"v":1171.3},{"s":"Ausgang Dx0.25","t":9.57067,"v":1171.8},{"s":"Ausgang Dx0.25","t":9.57167,"v":1172.6},{"s":"Ausgang Dx0.25","t":9.57267,"v":1173.7},{"s":"Ausgang Dx0.25","t":9.57367,"v":1175.1},{"s":"Ausgang Dx0.25","t":9.57467,"v":1176.8},{"s":"Ausgang Dx0.25","t":9.57567,"v":1178.9},{"s":"Ausgang Dx0.25","t":9.57667,"v":1181.5},{"s":"Ausgang Dx0.25","t":9.57767,"v":1184.4},{"s":"Ausgang Dx0.25","t":9.57867,"v":1187.3},{"s":"Ausgang Dx0.25","t":9.57967,"v":1190.1},{"s":"Ausgang Dx0.25","t":9.58067,"v":1192.7},{"s":"Ausgang Dx0.25","t":9.58167,"v":1195.1},{"s":"Ausgang Dx0.25","t":9.58267,"v":1197.2},{"s":"Ausgang Dx0.25","t":9.58367,"v":1198.9},{"s":"Ausgang Dx0.25","t":9.58467,"v":1200.2},{"s":"Ausgang Dx0.25","t":9.58567,"v":1201.0},{"s":"Ausgang Dx0.25","t":9.58667,"v":1201.35},{"s":"Ausgang Dx0.25","t":9.58767,"v":1201.4},{"s":"Ausgang Dx0.25","t":9.58867,"v":1201.05},{"s":"Ausgang Dx0.25","t":9.58967,"v":1200.3},{"s":"Ausgang Dx0.25","t":9.59077,"v":1198.7},{"s":"Ausgang Dx0.25","t":9.59167,"v":1194.32},{"s":"Ausgang Dx0.25","t":9.59267,"v":1189.43},{"s":"Ausgang Dx0.25","t":9.59367,"v":1184.92},{"s":"Ausgang Dx0.25","t":9.59467,"v":1180.95},{"s":"Ausgang Dx0.25","t":9.59567,"v":1177.65},{"s":"Ausgang Dx0.25","t":9.59667,"v":1175.14},{"s":"Ausgang Dx0.25","t":9.59767,"v":1173.2},{"s":"Ausgang Dx0.25","t":9.59867,"v":1172.1},{"s":"Ausgang Dx0.25","t":9.59967,"v":1171.4},{"s":"Ausgang Dx0.25","t":9.6,"v":1171.15}
]},
"layer": [
  {
    "mark": {"type": "line", "clip": true, "strokeWidth": 1.6, "interpolate": "linear"},
    "encoding": {
      "x": {"field": "t", "type": "quantitative",
        "scale": {"domain": [9.5, 9.6], "nice": false, "zero": false},
        "axis": {"orient": "bottom", "values": [9.5,9.505,9.51,9.515,9.52,9.525,9.53,9.535,9.54,9.545,9.55,9.555,9.56,9.565,9.57,9.575,9.58,9.585,9.59,9.595,9.6],
          "title": "Zeit in s", "titleFontSize": 24, "titleBaseline": "alphabetic", "titleY": 54,
          "labelFontSize": 21, "labelPadding": 22, "tickSize": -10, "labelOverlap": false, "labelFlush": false, "labelBound": false,
          "labelExpr": "abs(datum.value*50 - round(datum.value*50)) < 0.01 ? format(datum.value, '~g') : ''",
          "tickOpacity": {"condition": {"test": "abs(datum.value*50 - round(datum.value*50)) < 0.01", "value": 1}, "value": 0},
          "grid": true, "gridColor": "#c4c4c4", "gridDash": [1, 2], "gridWidth": 1}},
      "y": {"field": "v", "type": "quantitative",
        "scale": {"domain": [1160, 1230], "nice": false, "zero": false},
        "axis": {"orient": "left", "values": [1160,1162,1164,1166,1168,1170,1172,1174,1176,1178,1180,1182,1184,1186,1188,1190,1192,1194,1196,1198,1200,1202,1204,1206,1208,1210,1212,1214,1216,1218,1220,1222,1224,1226,1228,1230],
          "title": ["Drehzahl", "in min⁻¹"], "titleFontSize": 24, "titleAngle": 270, "titleBaseline": "alphabetic", "titleAlign": "center", "titleX": -105, "titleY": 184, "titleLineHeight": 35,
          "labelFontSize": 21, "labelPadding": 28, "tickSize": -10, "labelOverlap": false, "labelFlush": false, "labelBound": false,
          "labelExpr": "datum.value % 10 == 0 ? format(datum.value, 'd') : ''",
          "tickOpacity": {"condition": {"test": "datum.value % 10 == 0", "value": 1}, "value": 0},
          "grid": true, "gridColor": "#c4c4c4", "gridDash": [1, 2], "gridWidth": 1}},
      "color": {"field": "s", "type": "nominal",
        "scale": {"domain": ["Ausgang Dx2", "Eingang", "Ausgang Dx1.5", "Ausgang Dx1", "Ausgang Dx0.25", "Ausgang Dx2.5"],
                  "range": ["#0000FF", "#000000", "#D95319", "#EDB120", "#7E2F8E", "#77AC30"]},
        "legend": {"title": null, "orient": "none", "legendX": 759, "legendY": 8, "strokeColor": "#909090", "fillColor": "white", "padding": 4, "symbolType": "stroke", "symbolSize": 1024, "symbolStrokeWidth": 1.6, "labelFontSize": 21, "labelColor": "#000000", "clipHeight": 22, "rowPadding": 2.7, "labelOffset": 4, "labelLimit": 400}},
      "strokeDash": {"field": "s", "type": "nominal",
        "scale": {"domain": ["Ausgang Dx2", "Eingang", "Ausgang Dx1.5", "Ausgang Dx1", "Ausgang Dx0.25", "Ausgang Dx2.5"],
                  "range": [[1, 0], [6, 4], [1, 0], [1, 0], [1, 0], [1, 0]]},
        "legend": {"title": null, "orient": "none", "legendX": 759, "legendY": 8, "strokeColor": "#909090", "fillColor": "white", "padding": 4, "symbolType": "stroke", "symbolSize": 1024, "symbolStrokeWidth": 1.6, "labelFontSize": 21, "labelColor": "#000000", "clipHeight": 22, "rowPadding": 2.7, "labelOffset": 4, "labelLimit": 400}}
    }
  },
  {
    "mark": {"type": "line", "opacity": 0},
    "encoding": {
      "x": {"field": "t", "type": "quantitative",
        "scale": {"domain": [9.5, 9.6], "nice": false, "zero": false},
        "axis": {"orient": "top", "values": [9.5, 9.52, 9.54, 9.56, 9.58, 9.6], "labels": false, "title": null, "tickSize": -10, "grid": false}},
      "y": {"field": "v", "type": "quantitative",
        "scale": {"domain": [1160, 1230], "nice": false, "zero": false},
        "axis": {"orient": "right", "values": [1160, 1170, 1180, 1190, 1200, 1210, 1220, 1230], "labels": false, "title": null, "tickSize": -10, "grid": false}},
      "detail": {"field": "s"}
    }
  }
],
"resolve": {"axis": {"x": "independent", "y": "independent"}}
}
